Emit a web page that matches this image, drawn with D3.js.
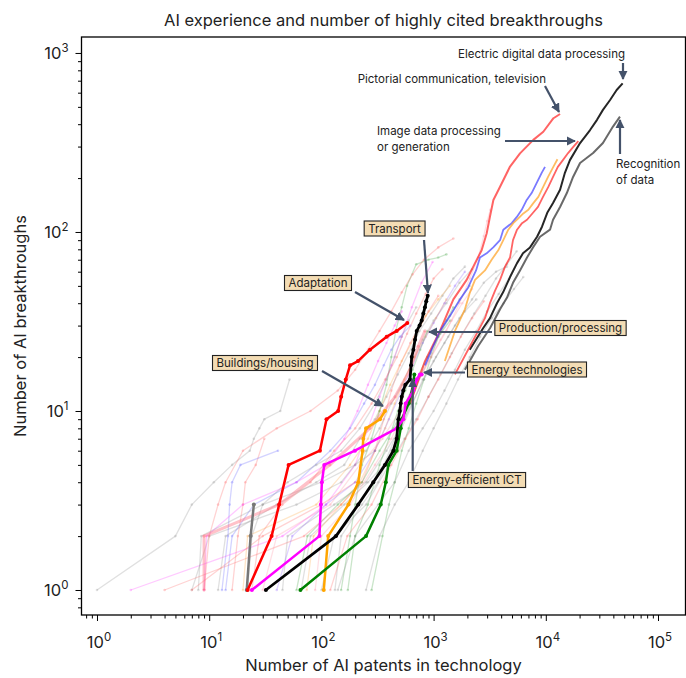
<!DOCTYPE html>
<html><head><meta charset="utf-8">
<script src="https://cdn.jsdelivr.net/npm/d3@7"></script>
<style>body{margin:0;background:#fff} text{font-family:Inter,'Noto Sans',sans-serif}</style>
</head><body><svg id="c" width="686" height="678"></svg>
<script>
// ---------- data (AI patents, AI breakthroughs) ----------
const title = "AI experience and number of highly cited breakthroughs";
const xTitle = "Number of AI patents in technology";
const yTitle = "Number of AI breakthroughs";
const xMajor = [1, 10, 100, 1000, 10000, 100000];
const yMajor = [1, 10, 100, 1000];

// background technologies (faint)
const bgColors = ["#888","#ff33ff","#ff5555","#888","#ff5555","#5555ff","#888","#ffa030","#339933","#339933","#ff5555","#ff8899","#888","#888","#5555ff","#ff33ff","#888","#ff5555","#888","#ffa030","#ff8899","#888","#339933","#888","#ff5555","#888","#ff5555","#888","#8855ff","#339933"];
const bgSeries = [
 [[1,1],[5,2],[7,3],[11,4],[16,5],[23,6],[25,7],[28,8],[31,9],[43,10],[52,15]],
 [[2,1],[45,2],[110,3],[200,5],[260,8],[330,12],[420,18],[520,26],[640,38],[780,52],[980,68]],
 [[4,1],[70,2],[150,3],[230,4],[300,6],[360,9],[420,13],[500,18],[620,24],[760,30],[900,36],[1100,44]],
 [[7,1],[10,2],[60,3],[150,4],[250,6],[330,8],[420,11],[520,14],[650,19],[800,25],[1000,32],[1300,40],[1700,52],[2200,62]],
 [[16,1],[18,2],[20,3],[21,4],[26,5],[31,7]],
 [[13,1],[14.7,2],[15.2,3],[16,4],[19,5],[41,6]],
 [[12,1],[14,2],[40,3],[90,4],[160,5],[220,7],[300,9],[380,12],[480,16],[600,21],[750,28],[950,35],[1200,44],[1500,55],[1900,64]],
 [[20,1],[22,2],[90,3],[180,5],[260,7],[330,10],[410,14],[520,19],[680,26],[850,34],[1100,42],[1400,50]],
 [[280,1],[350,2],[400,3],[450,4],[520,6],[600,8],[700,11],[820,15],[950,20],[1100,26],[1300,32],[1500,38]],
 [[150,1],[180,2],[200,3],[230,5],[280,7],[330,10],[380,14],[420,20],[460,28],[520,38],[580,50],[700,66],[900,70],[1100,72],[1300,75]],
 [[9,1],[10,2],[12,3],[14,4],[20,6],[40,8],[80,10],[140,13],[200,17],[260,22],[330,28],[420,36],[520,46],[650,58],[820,70],[1100,82],[1500,92]],
 [[30,1],[40,2],[120,3],[220,5],[350,7],[500,10],[700,14],[950,20],[1300,28],[1700,40],[2100,55],[2500,72],[2800,95],[3000,115],[3200,133]],
 [[45,1],[50,2],[130,3],[250,4],[380,6],[500,8],[640,11],[820,15],[1050,20],[1350,26],[1700,33],[2200,42],[2800,52],[3600,60],[4500,64]],
 [[100,1],[130,2],[250,3],[400,5],[550,7],[700,9],[900,12],[1150,16],[1450,21],[1800,27],[2300,35],[2900,44],[3600,55],[4500,66],[5500,78]],
 [[14,1],[16,2],[25,3],[60,4],[120,6],[180,8],[240,11],[300,14],[360,18],[420,22],[500,26],[620,30]],
 [[9,1],[9.5,2],[20,3],[60,4],[110,5],[160,7],[210,10],[260,14],[320,19],[380,24],[450,30],[520,36]],
 [[22,1],[24,2],[30,3],[50,4],[90,5],[150,6],[220,8],[300,11],[380,15],[450,20],[520,26],[600,32],[700,38]],
 [[24,1],[28,2],[45,3],[80,4],[130,6],[200,8],[280,11],[370,15],[470,20],[580,27],[700,35],[850,45],[1000,55],[1200,62]],
 [[66,1],[80,2],[160,3],[260,4],[360,5],[450,7],[550,9],[650,12],[780,16],[950,21],[1150,27],[1400,34],[1700,42],[2100,50]],
 [[74,1],[85,2],[150,3],[220,4],[300,6],[370,8],[450,11],[550,15],[680,20],[850,26],[1050,33],[1300,42]],
 [[88,1],[100,2],[180,3],[300,5],[420,7],[550,10],[700,14],[900,19],[1150,25],[1450,32],[1800,40],[2200,48]],
 [[132,1],[150,2],[230,3],[320,4],[420,6],[520,8],[650,11],[800,15],[1000,19],[1250,24],[1550,30],[1900,36],[2400,42]],
 [[172,1],[200,2],[260,3],[330,5],[400,7],[480,10],[560,13],[650,17],[760,22],[880,28]],
 [[8,1],[8.5,2],[30,3],[100,4],[200,5],[300,6]],
 [[7,1],[30,2],[100,3],[200,4]],
 [[140,1],[200,2],[320,3],[450,4],[600,6],[800,8],[1000,10],[1250,13],[1550,17],[1900,22],[2400,28],[3000,36],[3800,45],[4700,55]],
 [[120,1],[170,2],[280,3],[420,5],[560,7],[720,9],[900,12],[1100,15],[1400,20],[1750,26],[2200,33],[2800,41]],
 [[250,1],[330,2],[450,3],[600,4],[800,6],[1000,8],[1300,11],[1650,15],[2100,20],[2600,26],[3300,33],[4200,40],[5200,48],[6300,56]],
 [[40,1],[55,2],[110,3],[200,4],[300,6],[400,9],[520,13],[650,18],[800,24],[1000,31],[1250,40],[1550,50],[1900,60]],
 [[60,1],[75,2],[140,3],[230,4],[330,6],[440,8],[560,11],[700,15],[880,20],[1100,26],[1400,32]]
];

// production / processing (semi-transparent pink)
const prodProc = [[9,1],[9,2],[42,3],[119,5],[270,8],[453,12],[617,17],[730,23],[838,28]];

// highlighted low-experience technologies
const adaptation = [[22,1],[36,2],[42,3],[51,5],[97,6],[111,9],[141,10],[150,12],[165,15],[180,18],[212,19],[271,22],[382,26],[469,28],[583,31]];
const transport = [[32,1],[135,2],[213,3],[290,4],[369,5],[438,6],[469,7],[485,9],[500,10],[509,11],[520,12],[537,13],[560,14],[616,15],[630,18],[638,20],[660,22],[683,25],[707,28],[750,30],[783,32],[810,35],[838,38],[860,41],[886,44]];
const energyTech = [[24,1],[96,2],[99,3],[101,4],[106,5],[199,6],[469,8],[537,9],[564,11],[659,13],[707,15],[756,16],[783,16]];
const buildings = [[105,1],[115,2],[174,3],[213,4],[233,6],[236,7],[250,8],[333,9],[369,10]];
const energyICT = [[65,1],[250,2],[338,3],[375,4],[395,5],[469,6],[509,8],[520,9],[600,11],[659,14],[673,16]];
const grayShort = [[21.6,1],[23.4,2],[25,3]];

// highlighted high-experience technologies
const electric = [[2100,22],[2760,29],[3180,33],[3670,40],[4160,46],[4800,56],[5540,67],[6260,76],[7230,82],[8360,94],[9250,107],[10300,128],[11600,145],[13400,172],[14800,214],[16400,252],[20200,314],[24800,371],[28600,423],[32300,481],[37400,546],[42800,621],[48400,677]];
const recognition = [[1900,17],[2490,23],[3180,29],[3910,37],[4510,43],[5100,52],[5890,61],[6800,72],[7690,82],[8880,94],[10900,103],[11600,117],[13400,138],[15400,165],[17500,203],[20200,243],[26400,276],[32300,314],[39700,388],[45800,441]];
const pictorial = [[617,11],[838,19],[1140,28],[1500,42],[1970,54],[2340,67],[2680,79],[2970,98],[3180,122],[3410,151],[3910,179],[4800,232],[5890,275],[7740,327],[9500,363],[11700,432],[13400,456]];
const imageData = [[1550,16],[2110,23],[2870,33],[3180,40],[3530,47],[3910,54],[4330,64],[4800,72],[5100,90],[5540,103],[6140,112],[6800,117],[7690,128],[8520,138],[9440,157],[10500,178],[11600,203],[12800,231],[14200,252],[15800,276],[17500,298],[19500,322]];
const blueTech = [[838,18],[990,23],[1140,28],[1400,34],[1720,42],[2030,49],[2390,61],[2590,72],[2970,76],[3400,82],[3910,90],[4180,103],[4970,112],[5500,121],[6100,133],[6760,151],[7480,165],[8300,188],[9190,214],[9840,231]];
const orangeTech = [[1260,19],[1550,28],[1900,37],[2110,46],[2340,54],[2870,61],[3290,70],[3770,79],[4180,90],[4630,103],[5130,112],[5690,119],[6310,127],[6990,133],[7740,145],[8580,157],[9500,179],[10500,204],[11700,232],[12700,255]];

// annotation labels
const boxLabels = ["Transport","Adaptation","Buildings/housing","Production/processing","Energy technologies","Energy-efficient ICT"];
const plainLabels = ["Electric digital data processing","Pictorial communication, television","Image data processing","or generation","Recognition","of data"];

// ---------- drawing ----------
const svg = d3.select("#c");
const L=81.5, R=685.5, T=37, B=615;
const x = d3.scaleLog().domain([0.7276,175800]).range([L,R]);
const y = d3.scaleLog().domain([0.725,1228]).range([B,T]);
const line = d3.line().x(d=>x(d[0])).y(d=>y(d[1]));

const defs = svg.append("defs");
defs.append("clipPath").attr("id","clip").append("rect").attr("x",L).attr("y",T).attr("width",R-L).attr("height",B-T);
defs.append("marker").attr("id","arr").attr("viewBox","0 0 10 10").attr("refX",9).attr("refY",5)
  .attr("markerWidth",4.2).attr("markerHeight",4.2).attr("orient","auto-start-reverse")
  .append("path").attr("d","M0,0 L10,5 L0,10 z").attr("fill","#44526a");

const plot = svg.append("g").attr("clip-path","url(#clip)");

function drawSeries(data,color,width,opacity,r){
  plot.append("path").datum(data).attr("d",line).attr("fill","none")
    .attr("stroke",color).attr("stroke-width",width).attr("stroke-opacity",opacity)
    .attr("stroke-linejoin","round");
  if(r>0){
    plot.append("g").selectAll("circle").data(data).join("circle")
      .attr("cx",d=>x(d[0])).attr("cy",d=>y(d[1])).attr("r",r)
      .attr("fill",color).attr("fill-opacity",opacity);
  }
}
bgSeries.forEach((s,i)=>drawSeries(s,bgColors[i],1.3,0.26,1.3));
drawSeries(prodProc,"#ff6677",3,0.4,1.6);

drawSeries(electric,"#000",2,0.85,0);
drawSeries(recognition,"#444",2,0.8,0);
drawSeries(pictorial,"#ff2222",2,0.7,0);
drawSeries(imageData,"#ff2222",1.8,0.7,0);
drawSeries(blueTech,"#3333ff",1.8,0.65,0);
drawSeries(orangeTech,"#ffa020",1.8,0.7,0);

drawSeries(grayShort,"#777",2.5,1,2);
drawSeries(buildings,"#ffa500",2.5,1,2);
drawSeries(energyICT,"#008000",2.5,1,2);
drawSeries(adaptation,"#ff0000",2.5,1,2);
drawSeries(energyTech,"#ff00ff",2.5,1,2);
drawSeries(transport,"#000",2.8,1,2);

// axes
function minorTicks(dom){const t=[];for(let e=-1;e<=5;e++)for(let m=2;m<=9;m++){const v=m*Math.pow(10,e);if(v>=dom[0]&&v<=dom[1])t.push(v);}return t;}
const xg = svg.append("g").attr("transform",`translate(0,${B})`);
xg.call(d3.axisBottom(x).tickValues(minorTicks(x.domain())).tickSize(3.5).tickFormat(""));
const xg2 = svg.append("g").attr("transform",`translate(0,${B})`);
xg2.call(d3.axisBottom(x).tickValues(xMajor).tickSize(6).tickPadding(9).tickFormat(""));
const yg = svg.append("g").attr("transform",`translate(${L},0)`);
yg.call(d3.axisLeft(y).tickValues(minorTicks(y.domain())).tickSize(3.5).tickFormat(""));
const yg2 = svg.append("g").attr("transform",`translate(${L},0)`);
yg2.call(d3.axisLeft(y).tickValues(yMajor).tickSize(6).tickFormat(""));
svg.selectAll(".domain").remove();
svg.selectAll(".tick line").attr("stroke","#000").attr("stroke-width",1);

function expLabel(g,tx,ty,anchor,v){
  const t=g.append("text").attr("x",tx).attr("y",ty).attr("text-anchor",anchor).attr("font-size",16.5).attr("fill","#222");
  t.append("tspan").text("10");
  t.append("tspan").attr("dy",-7).attr("font-size",11.5).text(String(Math.round(Math.log10(v))));
}
xMajor.forEach(v=>expLabel(svg,x(v)+2,648,"middle",v));
yMajor.forEach(v=>expLabel(svg,L-13,y(v)+6,"end",v));

svg.append("rect").attr("x",L).attr("y",T).attr("width",R-L).attr("height",B-T)
  .attr("fill","none").attr("stroke","#000").attr("stroke-width",1.3);

// titles
svg.append("text").attr("x",(L+R)/2).attr("y",26).attr("text-anchor","middle").attr("font-size",16.5).attr("fill","#222").text(title);
svg.append("text").attr("x",(L+R)/2).attr("y",671).attr("text-anchor","middle").attr("font-size",16.5).attr("fill","#222").text(xTitle);
svg.append("text").attr("transform",`translate(26,${(T+B)/2}) rotate(-90)`).attr("text-anchor","middle").attr("font-size",16.5).attr("fill","#222").text(yTitle);

// arrows
const arrows = [
 [[424,240],[428,293]],
 [[355,292],[404,320]],
 [[322,371],[383,406]],
 [[492,332],[429,332]],
 [[465,372.5],[424,372.5]],
 [[412.7,471],[412.7,379]],
 [[623,63],[623,79]],
 [[545,86],[559,112]],
 [[505,141],[575,141]],
 [[620,154],[620,120]]
];
arrows.forEach(a=>svg.append("line").attr("x1",a[0][0]).attr("y1",a[0][1]).attr("x2",a[1][0]).attr("y2",a[1][1])
  .attr("stroke","#44526a").attr("stroke-width",2.2).attr("marker-end","url(#arr)"));

// boxed labels
const boxPos = [[394.5,232.5],[318,287],[265,367],[560.5,332],[527,373.5],[467,484]];
boxLabels.forEach((s,i)=>{
  const g=svg.append("g");
  const t=g.append("text").attr("x",boxPos[i][0]).attr("y",boxPos[i][1]).attr("text-anchor","middle")
    .attr("font-size",11.5).attr("fill","#222").text(s);
  const bb=t.node().getBBox();
  g.insert("rect","text").attr("x",bb.x-4).attr("y",bb.y-0.5).attr("width",bb.width+8).attr("height",bb.height+1)
    .attr("fill","#f3dcb4").attr("stroke","#222").attr("stroke-width",1.1);
});

// plain labels
const plainPos = [[625,58,"end"],[546,83,"end"],[377,135,"start"],[377,151,"start"],[616,168,"start"],[616,184,"start"]];
plainLabels.forEach((s,i)=>svg.append("text").attr("x",plainPos[i][0]).attr("y",plainPos[i][1])
  .attr("text-anchor",plainPos[i][2]).attr("font-size",11.5).attr("fill","#222").text(s));
</script></body></html>
